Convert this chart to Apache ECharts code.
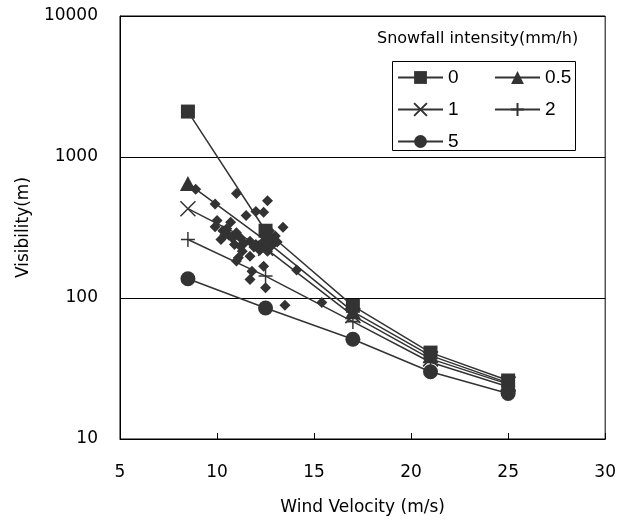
<!DOCTYPE html>
<html>
<head>
<meta charset="utf-8">
<script src="https://cdn.jsdelivr.net/npm/echarts@6/dist/echarts.min.js"></script>
<style>
  html, body { margin: 0; padding: 0; background: #fff; }
  #chart { width: 619px; height: 521px; }
</style>
</head>
<body>
<div id="chart"></div>
<script>
// wind velocity (m/s) where the curves are drawn
var windSpeeds = [8.5, 12.5, 17, 21, 25];
// visibility (m) per snowfall intensity
var vis0 = [2100, 300, 88, 41, 26];
var vis05 = [650, 255, 80, 39, 25];
var vis1 = [430, 225, 75, 37, 24.5];
var vis2 = [260, 143, 68, 35, 23.5];
var vis5 = [137, 85, 51, 30, 21];

// observed points (diamonds)
var obsWind = [8.9, 11.0, 12.6, 9.9, 11.5, 12.0, 12.4, 10.0, 10.7, 9.9, 10.3, 13.4, 11.0, 10.2,
    11.2, 11.7, 11.2, 11.7, 11.1, 11.0, 12.4, 11.8, 11.7, 12.5, 14.1, 13.5, 15.4,
    12.6, 12.9, 12.3, 12.8, 13.1, 12.2, 12.7, 12.0, 10.6, 10.5,
    12.5, 12.7, 12.4, 13.0, 12.6, 11.9, 11.4, 11.3, 10.9, 10.4, 10.8];
var obsVis = [590, 550, 490, 465, 385, 410, 405, 355, 345, 320, 300, 318, 290, 260,
    268, 253, 233, 198, 193, 183, 168, 155, 135, 118, 158, 89, 93,
    280, 262, 245, 235, 250, 218, 300, 240, 280, 310,
    270, 255, 230, 275, 215, 230, 245, 215, 240, 280, 265];

var xTicks = [5, 10, 15, 20, 25, 30];
var yTicks = [10, 100, 1000, 10000];

var chart = echarts.init(document.getElementById('chart'));
var ink = '#333333';
var font = 'DejaVu Sans';

function pairs(xs, ys) {
    var out = [];
    for (var i = 0; i < xs.length; i++) {
        out.push([xs[i], ys[i]]);
    }
    return out;
}

function curve(name, ys, symbol, size) {
    return {
        name: name,
        type: 'line',
        data: pairs(windSpeeds, ys),
        symbol: symbol,
        symbolSize: size,
        showAllSymbol: true,
        z: 3,
        lineStyle: {color: ink, width: 1.5},
        itemStyle: {color: ink, borderColor: ink, borderWidth: 0},
        emphasis: {disabled: true}
    };
}

var crossPath = 'path://M0,0L10,10M0,10L10,0';
var plusPath = 'path://M5,0L5,10M0,5L10,5';

var xSeries = curve('1', vis1, crossPath, 15);
xSeries.itemStyle.borderWidth = 1.5;
var plusSeries = curve('2', vis2, plusPath, [14, 15]);
plusSeries.itemStyle.borderWidth = 1.5;

var option = {
    animation: false,
    textStyle: {fontFamily: font},
    title: {
        text: 'Snowfall intensity(mm/h)',
        left: 372,
        top: 26,
        textStyle: {fontFamily: font, fontSize: 16, fontWeight: 'normal', color: '#000'}
    },
    legend: [{
        data: ['0', '1', '5'],
        orient: 'vertical',
        left: 392,
        top: 63,
        itemWidth: 45,
        itemHeight: 16,
        itemGap: 13,
        textStyle: {fontFamily: 'Liberation Sans', fontSize: 19, color: '#000'},
        selectedMode: false
    }, {
        data: ['0.5', '2'],
        orient: 'vertical',
        left: 489,
        top: 63,
        itemWidth: 45,
        itemHeight: 16,
        itemGap: 13,
        textStyle: {fontFamily: 'Liberation Sans', fontSize: 19, color: '#000'},
        selectedMode: false
    }],
    graphic: [{
        type: 'rect',
        shape: {x: 392.5, y: 61.5, width: 183, height: 89},
        style: {fill: 'none', stroke: '#000', lineWidth: 1},
        z: 10
    }],
    grid: {
        left: 120,
        top: 16,
        right: 12,
        bottom: 81,
        show: true,
        borderColor: '#000',
        borderWidth: 1
    },
    xAxis: {
        type: 'value',
        min: 5,
        max: 30,
        interval: 5,
        name: 'Wind Velocity (m/s)',
        nameLocation: 'middle',
        nameGap: 60,
        nameTextStyle: {fontFamily: font, fontSize: 17, color: '#000'},
        axisLine: {lineStyle: {color: '#000'}},
        axisTick: {inside: true, length: 6, lineStyle: {color: '#000'}},
        axisLabel: {
            fontFamily: font, fontSize: 17, color: '#000', margin: 25,
            formatter: function (v) { return xTicks.indexOf(v) >= 0 ? String(v) : ''; }
        },
        splitLine: {show: false}
    },
    yAxis: {
        type: 'log',
        logBase: 10,
        min: 10,
        max: 10000,
        name: 'Visibility(m)',
        nameLocation: 'middle',
        nameGap: 88,
        nameRotate: 90,
        nameTextStyle: {fontFamily: font, fontSize: 17, color: '#000'},
        axisLine: {lineStyle: {color: '#000'}},
        axisTick: {inside: true, length: 6, lineStyle: {color: '#000'}},
        axisLabel: {
            fontFamily: font, fontSize: 17, color: '#000', margin: 22,
            formatter: function (v) {
                var r = Math.round(v);
                return yTicks.indexOf(r) >= 0 ? String(r) : '';
            }
        },
        splitLine: {show: true, lineStyle: {color: '#000', width: 1}},
        minorTick: {show: false}
    },
    series: [
        {
            name: 'observed',
            type: 'scatter',
            data: pairs(obsWind, obsVis),
            symbol: 'diamond',
            symbolSize: 11,
            z: 2,
            itemStyle: {color: ink, opacity: 1},
            emphasis: {disabled: true}
        },
        curve('0', vis0, 'rect', 14),
        curve('0.5', vis05, 'triangle', [16, 15]),
        xSeries,
        plusSeries,
        curve('5', vis5, 'circle', 15)
    ]
};

chart.setOption(option);
</script>
</body>
</html>
